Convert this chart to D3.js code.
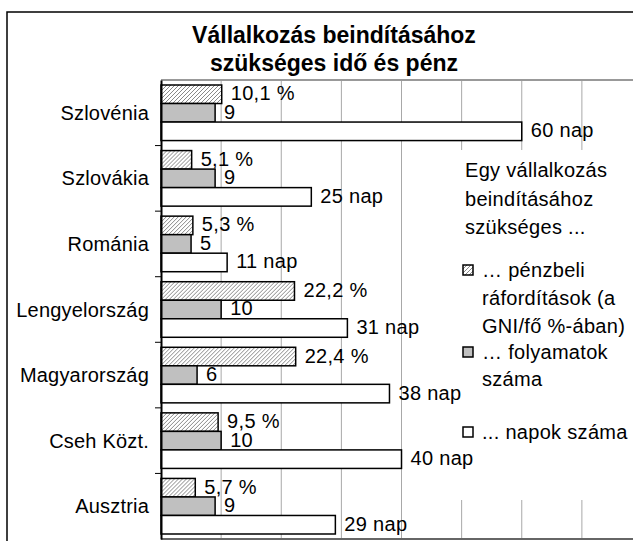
<!DOCTYPE html>
<html>
<head>
<meta charset="utf-8">
<script src="https://cdn.jsdelivr.net/npm/d3@7"></script>
<style>
  body { margin: 0; background: #fff; }
  svg { display: block; font-family: "Liberation Sans", Arial, sans-serif; }
</style>
</head>
<body>
<div id="chart"></div>
<script>
const countries = ['Szlovénia', 'Szlovákia', 'Románia', 'Lengyelország', 'Magyarország', 'Cseh Közt.', 'Ausztria'];
const costPct = [10.1, 5.1, 5.3, 22.2, 22.4, 9.5, 5.7];
const procedures = [9, 9, 5, 10, 6, 10, 9];
const days = [60, 25, 11, 31, 38, 40, 29];
const xTicks = [0, 10, 20, 30, 40, 50, 60, 70, 80];
const titleLines = ['Vállalkozás beindításához', 'szükséges idő és pénz'];
const legendTitle = ['Egy vállalkozás', 'beindításához', 'szükséges ...'];

const width = 633, height = 541;
const plot = { left: 161, top: 80, bottom: 539, right: 642 };

const svg = d3.select('#chart').append('svg')
  .attr('width', width)
  .attr('height', height);

// hatch pattern for the cost series
const pat = svg.append('defs').append('pattern')
  .attr('id', 'hatch')
  .attr('patternUnits', 'userSpaceOnUse')
  .attr('width', 4).attr('height', 4);
pat.append('rect').attr('width', 4).attr('height', 4).attr('fill', '#fff');
pat.append('path')
  .attr('d', 'M-1,1 l2,-2 M0,4 l4,-4 M3,5 l2,-2')
  .attr('stroke', '#888').attr('stroke-width', 1);

const series = [
  { key: 'pct', values: costPct, fill: 'url(#hatch)', label: v => d3.format('.1f')(v).replace('.', ',') + ' %' },
  { key: 'proc', values: procedures, fill: '#c0c0c0', label: v => String(v) },
  { key: 'days', values: days, fill: '#fff', label: v => v + ' nap' }
];

const x = d3.scaleLinear().domain([0, 80]).range([plot.left, plot.right]);
const y = d3.scaleBand().domain(countries).range([plot.top, plot.bottom]);
const ySub = d3.scaleBand().domain(series.map(s => s.key))
  .range([0, y.bandwidth()]).paddingInner(0).paddingOuter(0.27);

// outer frame
svg.append('rect')
  .attr('x', 7).attr('y', 12)
  .attr('width', 700).attr('height', 600)
  .attr('fill', 'none').attr('stroke', '#000').attr('stroke-width', 1.5);

// title
svg.append('g').selectAll('text')
  .data(titleLines)
  .join('text')
  .attr('x', 334)
  .attr('y', (d, i) => 43 + i * 28)
  .attr('text-anchor', 'middle')
  .attr('font-size', 23)
  .attr('font-weight', 'bold')
  .text(d => d);

// gridlines
svg.append('g').selectAll('line')
  .data(xTicks.slice(1))
  .join('line')
  .attr('x1', d => x(d)).attr('x2', d => x(d))
  .attr('y1', plot.top).attr('y2', plot.bottom)
  .attr('stroke', '#a8a8a8').attr('stroke-width', 1);

svg.append('line')
  .attr('x1', plot.left).attr('x2', width)
  .attr('y1', plot.top).attr('y2', plot.top)
  .attr('stroke', '#999').attr('stroke-width', 2);

// legend background covers the gridlines, bars and labels go on top
svg.append('rect')
  .attr('x', 455).attr('y', 150)
  .attr('width', 180).attr('height', 350)
  .attr('fill', '#fff');

// bars
const groups = svg.append('g').selectAll('g')
  .data(countries)
  .join('g')
  .attr('transform', d => `translate(0,${y(d)})`);

series.forEach(s => {
  groups.append('rect')
    .attr('x', x(0))
    .attr('y', ySub(s.key))
    .attr('width', (d, i) => x(s.values[i]) - x(0))
    .attr('height', ySub.bandwidth())
    .attr('fill', s.fill)
    .attr('stroke', '#000')
    .attr('stroke-width', 1.5);

  groups.append('text')
    .attr('x', (d, i) => x(s.values[i]) + 9)
    .attr('y', ySub(s.key) + ySub.bandwidth() / 2 - 1)
    .attr('dominant-baseline', 'central')
    .attr('font-size', 20)
    .attr('letter-spacing', 0.3)
    .text((d, i) => s.label(s.values[i]));
});

svg.append('g').selectAll('text')
  .data(legendTitle)
  .join('text')
  .attr('x', 465)
  .attr('y', (d, i) => 170 + i * 28.5)
  .attr('dominant-baseline', 'central')
  .attr('font-size', 20)
  .attr('letter-spacing', 0.3)
  .text(d => d);

const legendItems = [
  { fill: 'url(#hatch)', lines: ['… pénzbeli', 'ráfordítások (a', 'GNI/fő %-ában)'], y: 270, step: 28 },
  { fill: '#c0c0c0', lines: ['… folyamatok', 'száma'], y: 352, step: 27 },
  { fill: '#fff', lines: ['... napok száma'], y: 432, step: 27 }
];

const li = svg.append('g').selectAll('g')
  .data(legendItems)
  .join('g');

li.append('rect')
  .attr('x', 463).attr('y', d => d.y - 5)
  .attr('width', 10).attr('height', 10)
  .attr('fill', d => d.fill)
  .attr('stroke', '#000').attr('stroke-width', 1.5);

li.selectAll('text')
  .data(d => d.lines.map((t, i) => ({ t, y: d.y + i * d.step })))
  .join('text')
  .attr('x', 482)
  .attr('y', d => d.y)
  .attr('dominant-baseline', 'central')
  .attr('font-size', 20)
  .attr('letter-spacing', 0.3)
  .text(d => d.t);

// axes
svg.append('line')
  .attr('x1', plot.left).attr('x2', width)
  .attr('y1', plot.bottom).attr('y2', plot.bottom)
  .attr('stroke', '#666').attr('stroke-width', 2);

const yAxis = svg.append('g')
  .attr('transform', `translate(${plot.left},0)`)
  .call(d3.axisLeft(y).tickSize(0).tickFormat(''));
yAxis.select('.domain').attr('stroke', '#000').attr('stroke-width', 2);

svg.append('g').selectAll('line')
  .data(countries.slice(1))
  .join('line')
  .attr('x1', plot.left - 6).attr('x2', plot.left)
  .attr('y1', d => y(d)).attr('y2', d => y(d))
  .attr('stroke', '#000').attr('stroke-width', 1);

svg.append('g').selectAll('text')
  .data(countries)
  .join('text')
  .attr('x', 149)
  .attr('y', d => y(d) + y.bandwidth() / 2)
  .attr('text-anchor', 'end')
  .attr('dominant-baseline', 'central')
  .attr('font-size', 20)
  .attr('letter-spacing', 0.2)
  .text(d => d);
</script>
</body>
</html>
